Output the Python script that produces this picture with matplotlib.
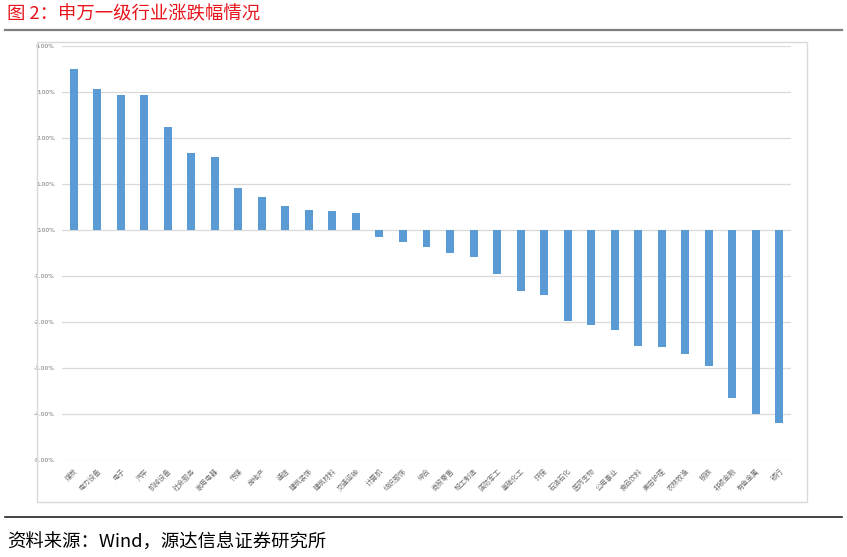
import matplotlib
matplotlib.use('Agg')
import matplotlib.pyplot as plt
from matplotlib.patches import Rectangle
from matplotlib.lines import Line2D
import numpy as np

plt.rcParams['font.family'] = ['Noto Sans CJK SC', 'DejaVu Sans']

industries = ['煤炭', '电力设备', '电子', '汽车', '机械设备', '社会服务', '家用电器',
              '传媒', '房地产', '通信', '建筑装饰', '建筑材料', '交通运输', '计算机',
              '纺织服饰', '综合', '商贸零售', '轻工制造', '国防军工', '基础化工', '环保',
              '石油石化', '医药生物', '公用事业', '食品饮料', '美容护理', '农林牧渔',
              '钢铁', '非银金融', '有色金属', '银行']
changes = [3.50, 3.07, 2.94, 2.94, 2.24, 1.67, 1.59,
           0.91, 0.72, 0.52, 0.43, 0.41, 0.37, -0.15,
           -0.26, -0.37, -0.50, -0.59, -0.96, -1.33, -1.41,
           -1.98, -2.07, -2.17, -2.52, -2.54, -2.70,
           -2.96, -3.65, -4.00, -4.20]
y_ticks = [4, 3, 2, 1, 0, -1, -2, -3, -4, -5]

W, H = 847, 557
fig = plt.figure(figsize=(W / 100, H / 100), dpi=100)

# chart frame
fig.patches.append(Rectangle((37 / W, 1 - 502 / H), 770 / W, 460 / H,
                             transform=fig.transFigure, fill=False,
                             edgecolor='#D9D9D9', linewidth=1, zorder=0))

ax = fig.add_axes([62 / W, 1 - 460 / H, 729 / W, 414 / H])
x = np.arange(len(industries))
ax.bar(x, changes, width=0.34, color='#5B9BD5', zorder=3)

ax.set_xlim(-0.5, len(industries) - 0.5)
ax.set_ylim(-5, 4)
ax.set_yticks(y_ticks)
ax.set_yticklabels(['%.2f%%' % v for v in y_ticks], fontsize=4.2, color='#6F6F6F',
                   family='DejaVu Sans')
ax.yaxis.grid(True, color='#D9D9D9', linewidth=0.9, zorder=0)
ax.set_xticks(x)
ax.set_xticklabels(industries, fontsize=5, color='#6F6F6F', rotation=45,
                   ha='right', va='top', rotation_mode='anchor')
ax.tick_params(axis='y', length=0, pad=5)
ax.tick_params(axis='x', length=0, pad=5)
for s in ax.spines.values():
    s.set_visible(False)

# header and footer
fig.text(7 / W, 1 - 14 / H, '图 2：申万一级行业涨跌幅情况', color='#E8141B',
         fontsize=13.2, va='center', ha='left')
fig.add_artist(Line2D([5 / W, 842 / W], [1 - 30 / H, 1 - 30 / H],
                      color='#7F7F7F', linewidth=1.6))
fig.add_artist(Line2D([5 / W, 842 / W], [1 - 517 / H, 1 - 517 / H],
                      color='#222222', linewidth=1.2))
fig.text(7 / W, 1 - 543 / H, '资料来源：Wind，源达信息证券研究所', color='black',
         fontsize=13.2, va='center', ha='left')

fig.savefig('out.png', dpi=100)
